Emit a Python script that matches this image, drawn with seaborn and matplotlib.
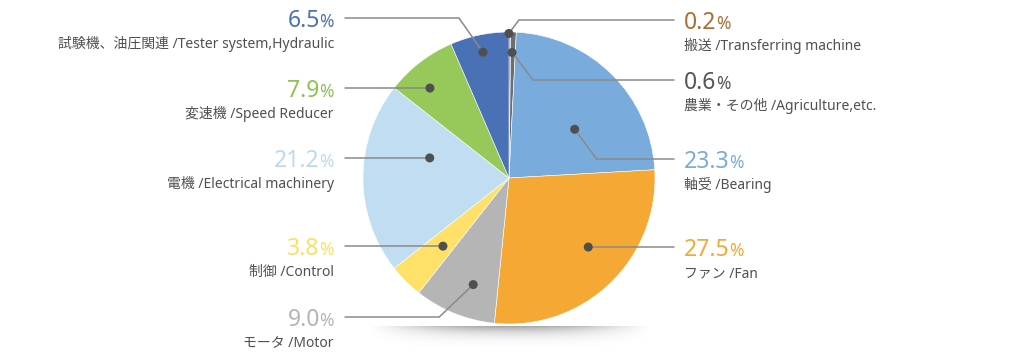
import numpy as np
import matplotlib
matplotlib.use("Agg")
import matplotlib.pyplot as plt
import seaborn as sns
import pandas as pd

# ---- data ----
categories_jp = ["搬送", "農業・その他", "軸受", "ファン", "モータ", "制御", "電機", "変速機", "試験機、油圧関連"]
categories_en = ["Transferring machine", "Agriculture,etc.", "Bearing", "Fan", "Motor", "Control",
                 "Electrical machinery", "Speed Reducer", "Tester system,Hydraulic"]
shares = [0.2, 0.6, 23.3, 27.5, 9.0, 3.8, 21.2, 7.9, 6.5]
pct_labels = ["0.2", "0.6", "23.3", "27.5", "9.0", "3.8", "21.2", "7.9", "6.5"]

# ---- styles / layout ----
wedge_colors = ["#ad6c33", "#6e6e6e", "#79acdc", "#f5a834", "#b4b5b4", "#ffe068", "#c1ddf2", "#96c85a", "#4a70b5"]
text_colors = ["#a86e35", "#555555", "#79acdc", "#f5a834", "#b4b4b4", "#ffdf60", "#bcd8f0", "#8cc350", "#4a70b5"]
side = ["R", "R", "R", "R", "L", "L", "L", "L", "L"]
line_y = [20, 80, 159, 247, 317, 246, 158, 88, 18]
anchor_off = [-0.4, -0.4, 8.6, -5.2, -3.4, -0.9, 14.2, -3.7, 0.0]
anchor_r = [0.99, 0.86, 0.56, 0.72, 0.77, 0.65, 0.56, 0.82, 0.88]
elbow_dx = [10, 21, 22, 0, -34, 0, 0, 0, -24]

W, H = 1020, 359
CX, CY, R = 509, 178, 146
LEFT_END, RIGHT_END = 345, 674
LEFT_TXT, RIGHT_TXT = 334, 684

sns.set_theme(style="white")
FAM = ['Noto Sans', 'Noto Sans CJK JP', 'DejaVu Sans']
plt.rcParams['font.family'] = FAM

fig = plt.figure(figsize=(W / 100, H / 100), dpi=100)
ax = fig.add_axes([0, 0, 1, 1])

# shadow under the pie
sx0, sx1, sy0, sy1 = 368, 652, 326, 349
nx, ny = 300, 60
u = np.linspace(-1, 1, nx)[None, :]
v = np.linspace(0, 1, ny)[:, None]
alpha = 0.55 * np.clip(1 - u ** 2, 0, 1) ** 1.3 * np.exp(-3.0 * v) * np.clip(1 - v ** 2, 0, 1)
img = np.zeros((ny, nx, 4))
img[..., 0:3] = 0.35
img[..., 3] = alpha
ax.imshow(img, extent=(sx0, sx1, sy1, sy0), origin="upper", zorder=0, interpolation="bilinear")

# pie (y axis inverted -> counterclock in data is clockwise on screen)
wedges, _ = ax.pie(shares, colors=wedge_colors, startangle=-90, counterclock=True,
                   center=(CX, CY), radius=R, normalize=True,
                   wedgeprops=dict(edgecolor="white", linewidth=0.4))
for w_ in wedges:
    w_.set_zorder(2)

ax.set_xlim(0, W)
ax.set_ylim(H, 0)
ax.set_aspect("auto")
ax.axis("off")

# anchors computed from wedge geometry
anchors = []
for i, w_ in enumerate(wedges):
    mid = (w_.theta1 + w_.theta2) / 2.0 + anchor_off[i]
    th = np.deg2rad(mid)
    anchors.append((CX + anchor_r[i] * R * np.cos(th), CY + anchor_r[i] * R * np.sin(th)))

# leader lines
for i, (px, py) in enumerate(anchors):
    ex = px + elbow_dx[i]
    end = RIGHT_END if side[i] == "R" else LEFT_END
    ax.plot([px, ex, end], [py, line_y[i], line_y[i]], color="#8a8a8a", lw=1.1, zorder=3,
            solid_joinstyle="miter")

dots = pd.DataFrame({"x": [a[0] for a in anchors], "y": [a[1] for a in anchors]})
sns.scatterplot(data=dots, x="x", y="y", ax=ax, s=42, color="#4f4f4f", edgecolor="none", zorder=4, legend=False)
ax.set_xlim(0, W)
ax.set_ylim(H, 0)
ax.axis("off")

# labels
NUM_FS, PCT_FS, SUB_FS = 16.5, 12.5, 10
GAP = -0.3
fig.canvas.draw()
renderer = fig.canvas.get_renderer()
inv = ax.transData.inverted()

for i in range(len(shares)):
    ybase = line_y[i] + 9
    ysub = line_y[i] + 30
    sub = f"{categories_jp[i]} /{categories_en[i]}"
    if side[i] == "R":
        t = ax.text(RIGHT_TXT, ybase, pct_labels[i], fontsize=NUM_FS, color=text_colors[i],
                    ha="left", va="baseline")
        bb = t.get_window_extent(renderer)
        xr = inv.transform((bb.x1, bb.y0))[0]
        ax.text(xr + GAP, ybase, "%", fontsize=PCT_FS, color=text_colors[i], ha="left", va="baseline")
        ax.text(RIGHT_TXT, ysub, sub, fontsize=SUB_FS, color="#505050", ha="left", va="baseline")
    else:
        p = ax.text(LEFT_TXT, ybase, "%", fontsize=PCT_FS, color=text_colors[i], ha="right", va="baseline")
        bb = p.get_window_extent(renderer)
        xl = inv.transform((bb.x0, bb.y0))[0]
        ax.text(xl - GAP, ybase, pct_labels[i], fontsize=NUM_FS, color=text_colors[i],
                ha="right", va="baseline")
        ax.text(LEFT_TXT, ysub, sub, fontsize=SUB_FS, color="#505050", ha="right", va="baseline")

fig.savefig("out.png", dpi=100, facecolor="white")
